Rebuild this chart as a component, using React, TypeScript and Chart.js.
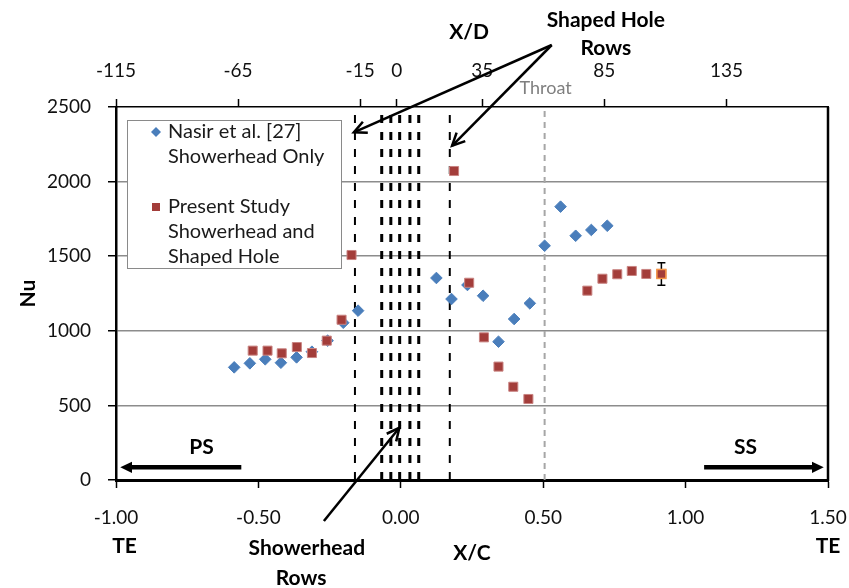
import React, { useEffect, useRef } from 'react';
import { Chart, registerables } from 'chart.js';

Chart.register(...registerables);

// ---- data (X/C vs Nu) ----
const nasirXC = [-0.585, -0.53, -0.476, -0.421, -0.366, -0.312, -0.257, -0.202, -0.15, 0.125, 0.178, 0.234, 0.289, 0.343, 0.398, 0.453, 0.505, 0.561, 0.614, 0.669, 0.725];
const nasirNu = [755, 782, 809, 786, 822, 860, 934, 1054, 1135, 1354, 1213, 1307, 1235, 927, 1079, 1184, 1570, 1832, 1637, 1676, 1704];
const presentXC = [-0.52, -0.468, -0.418, -0.365, -0.312, -0.26, -0.208, -0.173, 0.187, 0.24, 0.292, 0.343, 0.395, 0.448, 0.655, 0.708, 0.76, 0.811, 0.862, 0.915];
const presentNu = [867, 867, 849, 891, 851, 934, 1074, 1508, 2071, 1322, 956, 760, 625, 543, 1269, 1349, 1379, 1401, 1381, 1381];
const presentErr = [0, 0, 0, 0, 0, 0, 0, 0, 0, 0, 0, 0, 0, 0, 0, 0, 0, 0, 0, 75];

const shapedRowsXC = [-0.161, 0.172];
const showerheadRowsXC = [-0.067, -0.035, -0.004, 0.032, 0.063];
const throatXC = 0.505;
const rowLineTopNu = 2460;

const xcTickValues = [-1, -0.5, 0, 0.5, 1, 1.5];
const xdTickValues = [-115, -65, -15, 0, 35, 85, 135];
const nuTickValues = [0, 500, 1000, 1500, 2000, 2500];

const FONT = 'Lato, "Open Sans", sans-serif';

function arrow(ctx: CanvasRenderingContext2D, x1: number, y1: number, x2: number, y2: number, w: number, head: number, filled: boolean) {
  const ang = Math.atan2(y2 - y1, x2 - x1);
  ctx.lineWidth = w;
  ctx.strokeStyle = '#000';
  ctx.fillStyle = '#000';
  ctx.beginPath();
  const endX = filled ? x2 - Math.cos(ang) * head * 0.8 : x2;
  const endY = filled ? y2 - Math.sin(ang) * head * 0.8 : y2;
  ctx.moveTo(x1, y1);
  ctx.lineTo(endX, endY);
  ctx.stroke();
  const a1 = ang + Math.PI - 0.45;
  const a2 = ang + Math.PI + 0.45;
  ctx.beginPath();
  if (filled) {
    ctx.moveTo(x2, y2);
    ctx.lineTo(x2 + Math.cos(a1) * head, y2 + Math.sin(a1) * head);
    ctx.lineTo(x2 + Math.cos(a2) * head, y2 + Math.sin(a2) * head);
    ctx.closePath();
    ctx.fill();
  } else {
    ctx.moveTo(x2 + Math.cos(a1) * head, y2 + Math.sin(a1) * head);
    ctx.lineTo(x2, y2);
    ctx.lineTo(x2 + Math.cos(a2) * head, y2 + Math.sin(a2) * head);
    ctx.stroke();
  }
}

const annotPlugin = {
  id: 'annot',
  afterDraw(chart: any) {
    const { ctx, chartArea: a, scales } = chart;
    const x = scales.x;
    const y = scales.y;
    ctx.save();
    // right border
    ctx.strokeStyle = '#000';
    ctx.lineWidth = 2.5;
    ctx.beginPath();
    ctx.moveTo(a.right, a.top);
    ctx.lineTo(a.right, a.bottom + 1);
    ctx.stroke();

    // error bars
    ctx.strokeStyle = '#000';
    ctx.lineWidth = 1.5;
    presentErr.forEach((e, i) => {
      if (!e) return;
      const px = x.getPixelForValue(presentXC[i]);
      const yt = y.getPixelForValue(presentNu[i] + e);
      const yb = y.getPixelForValue(presentNu[i] - e);
      ctx.beginPath();
      ctx.moveTo(px, yt); ctx.lineTo(px, yb);
      ctx.moveTo(px - 4, yt); ctx.lineTo(px + 4, yt);
      ctx.moveTo(px - 4, yb); ctx.lineTo(px + 4, yb);
      ctx.stroke();
    });
    // redraw last point on top of the error bar
    const li = presentXC.length - 1;
    const lx = x.getPixelForValue(presentXC[li]);
    const ly = y.getPixelForValue(presentNu[li]);
    ctx.fillStyle = '#A33D3A';
    ctx.strokeStyle = '#F79646';
    ctx.lineWidth = 1.5;
    ctx.fillRect(lx - 4.5, ly - 4.5, 9, 9);
    ctx.strokeRect(lx - 4.5, ly - 4.5, 9, 9);

    // legend
    const bx = a.left + 11, by = a.top + 13, bw = 214, bh = 148;
    ctx.fillStyle = '#fff';
    ctx.fillRect(bx, by, bw, bh);
    ctx.strokeStyle = '#8a8a8a';
    ctx.lineWidth = 1;
    ctx.strokeRect(bx + 0.5, by + 0.5, bw, bh);
    ctx.font = `20px ${FONT}`;
    ctx.fillStyle = '#1a1a1a';
    ctx.textAlign = 'left';
    ctx.textBaseline = 'middle';
    const tx = bx + 41;
    const lines = ['Nasir et al. [27]', 'Showerhead Only', '', 'Present Study', 'Showerhead and', 'Shaped Hole'];
    lines.forEach((t, i) => { if (t) ctx.fillText(t, tx, by + 12 + i * 25); });
    // markers
    const mx = bx + 29;
    ctx.fillStyle = '#4A7EBB';
    ctx.beginPath();
    const my1 = by + 12;
    ctx.moveTo(mx - 5, my1); ctx.lineTo(mx, my1 - 5); ctx.lineTo(mx + 5, my1); ctx.lineTo(mx, my1 + 5); ctx.closePath();
    ctx.fill();
    ctx.fillStyle = '#A33D3A';
    ctx.fillRect(mx - 4, by + 12 + 75 - 4, 8, 8);

    // Throat
    ctx.font = `18px ${FONT}`;
    ctx.fillStyle = '#7f7f7f';
    ctx.textAlign = 'center';
    ctx.fillText('Throat', x.getPixelForValue(throatXC) + 1, a.top - 19);

    // bold labels
    ctx.fillStyle = '#000';
    ctx.font = `bold 21px ${FONT}`;
    ctx.fillText('X/D', x.getPixelForValue(0.24), 32);
    ctx.fillText('Shaped Hole', x.getPixelForValue(0.72), 20);
    ctx.fillText('Rows', x.getPixelForValue(0.72), 48);
    ctx.fillText('PS', x.getPixelForValue(-0.7), y.getPixelForValue(220));
    ctx.fillText('SS', x.getPixelForValue(1.21), y.getPixelForValue(220));
    ctx.fillText('TE', x.getPixelForValue(-0.97), a.bottom + 66);
    ctx.fillText('TE', x.getPixelForValue(1.5), a.bottom + 66);
    ctx.fillText('Showerhead', x.getPixelForValue(-0.33), a.bottom + 68);
    ctx.fillText('Rows', x.getPixelForValue(-0.35), a.bottom + 98);
    ctx.fillText('X/C', x.getPixelForValue(0.25), a.bottom + 73);
    ctx.save();
    ctx.translate(28, y.getPixelForValue(1250));
    ctx.rotate(-Math.PI / 2);
    ctx.fillText('Nu', 0, 0);
    ctx.restore();

    // arrows
    const apexX = x.getPixelForValue(0.53), apexY = 45;
    arrow(ctx, apexX, apexY, x.getPixelForValue(-0.165), y.getPixelForValue(2330), 2.5, 14, false);
    arrow(ctx, apexX, apexY, x.getPixelForValue(0.18), y.getPixelForValue(2240), 2.5, 14, false);
    arrow(ctx, x.getPixelForValue(-0.27), a.bottom + 41, x.getPixelForValue(-0.005), y.getPixelForValue(350), 2.5, 14, false);
    arrow(ctx, x.getPixelForValue(-0.56), y.getPixelForValue(85), x.getPixelForValue(-0.985), y.getPixelForValue(85), 4.5, 13, true);
    arrow(ctx, x.getPixelForValue(1.065), y.getPixelForValue(85), x.getPixelForValue(1.485), y.getPixelForValue(85), 4.5, 13, true);
    ctx.restore();
  },
};

export default function App() {
  const ref = useRef<HTMLCanvasElement | null>(null);
  useEffect(() => {
    document.body.style.margin = '0';
    if (!ref.current) return;
    const vLine = (xc: number, top: number, color: string, width: number, dash: number[]) => ({
      type: 'line' as const,
      data: [{ x: xc, y: 0 }, { x: xc, y: top }],
      borderColor: color,
      borderWidth: width,
      borderDash: dash,
      pointRadius: 0,
      fill: false,
      order: 5,
    });
    const datasets: any[] = [
      {
        type: 'scatter',
        label: 'Nasir et al. [27] Showerhead Only',
        data: nasirXC.map((v, i) => ({ x: v, y: nasirNu[i] })),
        pointStyle: 'rectRot',
        pointRadius: 5.8,
        backgroundColor: '#4A7EBB',
        borderColor: '#4A7EBB',
        borderWidth: 1,
        order: 1,
      },
      {
        type: 'scatter',
        label: 'Present Study Showerhead and Shaped Hole',
        data: presentXC.map((v, i) => ({ x: v, y: presentNu[i] })),
        pointStyle: 'rect',
        pointRadius: 6.4,
        backgroundColor: '#A33D3A',
        borderColor: '#C98482',
        borderWidth: 1,
        order: 0,
      },
      ...shapedRowsXC.map((v) => vLine(v, rowLineTopNu, '#000', 2, [8, 9])),
      ...showerheadRowsXC.map((v) => vLine(v, rowLineTopNu, '#000', 3, [8, 9])),
      vLine(throatXC, 2500, '#A6A6A6', 2, [6, 5]),
    ];
    const tickFont = { family: FONT, size: 19 };
    const fixPad = (s: any) => { s.paddingLeft = 0; s.paddingRight = 21; };
    const chart = new Chart(ref.current, {
      type: 'scatter',
      data: { datasets },
      plugins: [annotPlugin],
      options: {
        animation: false,
        responsive: false,
        layout: { padding: 0 },
        plugins: { legend: { display: false }, tooltip: { enabled: false } },
        scales: {
          x: {
            type: 'linear',
            position: 'bottom',
            min: -1,
            max: 1.5,
            afterBuildTicks: (s: any) => { s.ticks = xcTickValues.map((v) => ({ value: v })); },
            afterFit: (s: any) => { s.height = 108; fixPad(s); },
            ticks: { font: tickFont, color: '#111', padding: 18, maxRotation: 0, callback: (v: any) => Number(v).toFixed(2) },
            grid: { drawOnChartArea: false, tickLength: 8, tickColor: '#000', tickWidth: 1.5 },
            border: { color: '#000', width: 3 },
          },
          x2: {
            type: 'linear',
            position: 'top',
            min: -115,
            max: 176.6,
            afterBuildTicks: (s: any) => { s.ticks = xdTickValues.map((v) => ({ value: v })); },
            afterFit: (s: any) => { s.height = 107; fixPad(s); },
            ticks: { font: tickFont, color: '#111', padding: 17, maxRotation: 0, autoSkip: false, callback: (v: any) => String(v) },
            grid: { drawOnChartArea: false, tickLength: 8, tickColor: '#000', tickWidth: 1.5 },
            border: { color: '#000', width: 1.5 },
          },
          y: {
            type: 'linear',
            min: 0,
            max: 2500,
            afterBuildTicks: (s: any) => { s.ticks = nuTickValues.map((v) => ({ value: v })); },
            afterFit: (s: any) => { s.width = 116; },
            ticks: { font: tickFont, color: '#111', padding: 17, callback: (v: any) => String(v) },
            grid: {
              color: (c: any) => (c.tick && (c.tick.value === 0 || c.tick.value === 2500) ? 'rgba(0,0,0,0)' : '#8c8c8c'),
              lineWidth: 1.5,
              tickLength: 8,
              tickColor: '#000',
              tickWidth: 1.5,
            },
            border: { color: '#000', width: 2.5 },
          },
        },
      } as any,
    });
    return () => chart.destroy();
  }, []);
  return <canvas ref={ref} width={849} height={588} style={{ display: 'block' }} />;
}
